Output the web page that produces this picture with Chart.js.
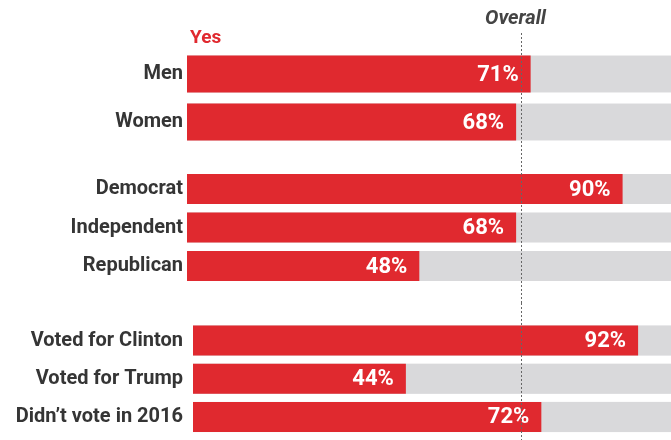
<!DOCTYPE html>
<html>
<head>
<meta charset="utf-8">
<script src="https://cdn.jsdelivr.net/npm/chart.js@4.4.0/dist/chart.umd.min.js"></script>
<style>
  body { margin: 0; background: #fff; width: 671px; height: 440px; overflow: hidden; position: relative; }
  canvas { position: absolute; left: 0; }
</style>
</head>
<body>
<canvas id="genderChart" width="671" height="157" style="top:0"></canvas>
<canvas id="partyChart" width="671" height="146" style="top:157px"></canvas>
<canvas id="voteChart" width="671" height="137" style="top:303px"></canvas>
<script>
// data
var genderLabels = ["Men", "Women"];
var genderYes = [71, 68];
var partyLabels = ["Democrat", "Independent", "Republican"];
var partyYes = [90, 68, 48];
var voteLabels = ["Voted for Clinton", "Voted for Trump", "Didn\u2019t vote in 2016"];
var voteYes = [92, 44, 72];
var overall = 69;

var red = '#e0292f';
var grey = '#d9d9db';
var font = 'Roboto';
var refScale = null; // x scale of the first chart, used for the dashed line

// grey track behind every bar
var trackPlugin = {
    id: 'track',
    beforeDatasetsDraw: function (chart) {
        var ctx = chart.ctx;
        var x = chart.scales.x;
        var x0 = x.getPixelForValue(0);
        var x1 = x.getPixelForValue(x.max);
        ctx.save();
        ctx.fillStyle = grey;
        chart.getDatasetMeta(0).data.forEach(function (bar) {
            ctx.fillRect(x0, bar.y - bar.height / 2, x1 - x0 + 2, bar.height);
        });
        ctx.restore();
    }
};

// percent labels inside the bars + overall line
var labelPlugin = {
    id: 'labels',
    afterDatasetsDraw: function (chart, args, opts) {
        var ctx = chart.ctx;
        var meta = chart.getDatasetMeta(0);
        var values = chart.data.datasets[0].data;
        ctx.save();
        ctx.fillStyle = '#fff';
        ctx.font = 'bold 22px ' + font;
        ctx.textAlign = 'right';
        ctx.textBaseline = 'middle';
        meta.data.forEach(function (bar, i) {
            ctx.fillText(values[i] + '%', bar.x - 12, bar.y + 1);
        });

        var scale = refScale || chart.scales.x;
        var lx = Math.round(scale.getPixelForValue(overall)) + 0.5;
        ctx.strokeStyle = '#666';
        ctx.lineWidth = 1;
        ctx.setLineDash([2, 2]);
        ctx.beginPath();
        ctx.moveTo(lx, opts.lineTop || 0);
        ctx.lineTo(lx, chart.height);
        ctx.stroke();
        ctx.setLineDash([]);

        if (opts.header) {
            ctx.textBaseline = 'middle';
            ctx.textAlign = 'left';
            ctx.fillStyle = red;
            ctx.font = 'bold 19px ' + font;
            ctx.fillText('Yes', 190, 38);
            ctx.textAlign = 'center';
            ctx.fillStyle = '#444';
            ctx.font = 'italic bold 20px ' + font;
            ctx.fillText('Overall', lx - 6, 19);
        }
        ctx.restore();
    }
};

function makeChart(id, labels, values, o) {
    return new Chart(document.getElementById(id), {
        type: 'bar',
        data: {
            labels: labels,
            datasets: [{
                data: values,
                backgroundColor: red,
                borderWidth: 0,
                categoryPercentage: 1,
                barPercentage: o.bar
            }]
        },
        options: {
            indexAxis: 'y',
            responsive: false,
            animation: false,
            layout: { padding: { top: o.top, bottom: o.bottom, left: 0, right: 0 } },
            plugins: {
                legend: { display: false },
                tooltip: { enabled: false },
                labels: { header: o.header, lineTop: o.lineTop }
            },
            scales: {
                x: { display: false, min: 0, max: o.max },
                y: {
                    grid: { display: false, drawTicks: false },
                    border: { display: false },
                    ticks: {
                        padding: o.pad,
                        color: '#353535',
                        font: { family: font, size: 20, weight: 'bold' }
                    },
                    afterFit: function (s) {
                        s.width = o.left;
                        s.paddingTop = 0;
                        s.paddingBottom = 0;
                    }
                }
            }
        },
        plugins: [trackPlugin, labelPlugin]
    });
}

var genderChart = makeChart('genderChart', genderLabels, genderYes,
    { top: 50, bottom: 11, bar: 0.77, left: 187, pad: 4, max: 100, header: true, lineTop: 33 });
refScale = genderChart.scales.x;
genderChart.update();
makeChart('partyChart', partyLabels, partyYes,
    { top: 12.75, bottom: 17.75, bar: 0.78, left: 187, pad: 4, max: 100 });
makeChart('voteChart', voteLabels, voteYes,
    { top: 18.4, bottom: 3.9, bar: 0.79, left: 193, pad: 10, max: 98.8 });
</script>
</body>
</html>
